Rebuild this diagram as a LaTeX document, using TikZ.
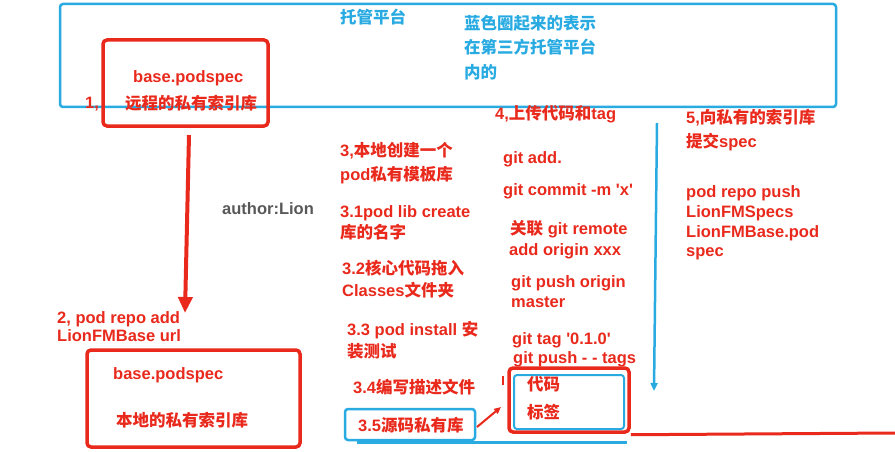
\documentclass[tikz,border=0pt]{standalone}
\usepackage{fontspec}
\setmainfont{Liberation Sans}[Ligatures=TeXOff]
\newfontfamily\cjk{Noto Sans CJK SC}
\usetikzlibrary{fit,arrows.meta}
\definecolor{myred}{RGB}{232,41,28}
\definecolor{myblue}{RGB}{41,171,226}
\definecolor{mygray}{RGB}{88,88,88}
\newcommand{\C}[1]{{\cjk #1}}
\tikzset{
  txt/.style={anchor=base west,inner sep=0pt,font=\fontsize{16.5}{20}\selectfont\bfseries},
  rt/.style={txt,text=myred},
  bt/.style={txt,text=myblue},
  gt/.style={txt,text=mygray},
  redbox/.style={draw=myred,line width=3.5pt,rounded corners=4pt,inner sep=0pt},
  bluebox/.style={draw=myblue,line width=2.5pt,rounded corners=3pt,inner sep=0pt},
}
\begin{document}
\begin{tikzpicture}[x=1pt,y=-1pt]
\useasboundingbox (0,0) rectangle (895,452);
% platform box
\node (plat) [bluebox,fit={(60,4) (836,107)}] {};
\node (platt) [bt] at (340,24) {\C{托管平台}};
\node (note1) [bt] at (464,30) {\C{蓝色圈起来的表示}};
\node (note2) [bt] at (464,54) {\C{在第三方托管平台}};
\node (note3) [bt] at (464,78) {\C{内的}};
% remote index
\node (r1) [redbox,fit={(103,40) (268,126)}] {};
\node (r1a) [rt] at (133,82) {base.podspec};
\node (s1) [rt] at (85,109) {1,};
\node (r1b) [rt] at (125,110) {\C{远程的私有索引库}};
\node (auth) [gt] at (222,214) {author:Lion};
% step 2
\node (s2a) [rt] at (57,323) {2, pod repo add};
\node (s2b) [rt] at (57,341) {LionFMBase url};
\coordinate (a1s) at (189,135);
\coordinate (a1e) at (185,313);
\draw[myred,line width=4pt,-{Triangle[length=16pt,width=14pt]}] (a1s) -- (a1e);
% local index
\node (r2) [redbox,fit={(87,350) (300,447)}] {};
\node (r2a) [rt] at (113,379) {base.podspec};
\node (r2b) [rt] at (116,426) {\C{本地的私有索引库}};
% step 3
\node (s3a) [rt] at (340,156) {3,\C{本地创建一个}};
\node (s3b) [rt] at (340,180) {pod\C{私有模板库}};
\node (s31a) [rt] at (340,217) {3.1pod lib create};
\node (s31b) [rt] at (340,238) {\C{库的名字}};
\node (s32a) [rt] at (342,274) {3.2\C{核心代码拖入}};
\node (s32b) [rt] at (342,296) {Classes\C{文件夹}};
\node (s33a) [rt] at (347,335) {3.3 pod install \C{安}};
\node (s33b) [rt] at (347,357) {\C{装测试}};
\node (s34) [rt] at (353,393) {3.4\C{编写描述文件}};
\node (b35) [bluebox,fit={(345,409) (475,440)}] {};
\node (s35) [rt] at (358,431) {3.5\C{源码私有库}};
\coordinate (ul1) at (357,442);
\coordinate (ul2) at (627,442);
\draw[myblue,line width=3pt] (ul1) -- (ul2);
% step 4
\node (s4) [rt] at (495,119) {4,\C{上传代码和}tag};
\node (g1) [rt] at (503,163) {git add.};
\node (g2) [rt] at (503,195) {git commit -m 'x'};
\node (g3a) [rt] at (510,234) {\C{关联} git remote};
\node (g3b) [rt] at (509,255) {add origin xxx};
\node (g4a) [rt] at (511,287) {git push origin};
\node (g4b) [rt] at (511,307) {master};
\node (g5a) [rt] at (512,344) {git tag '0.1.0'};
\node (g5b) [rt] at (513,363) {git push - - tags};
% code box
\node (r4) [redbox,fit={(509,368) (629,432)}] {};
\node (b4) [bluebox,line width=2pt,fit={(514,375) (624,429)}] {};
\node (c1) [rt] at (527,390) {\C{代码}};
\node (c2) [rt] at (527,418) {\C{标签}};
\coordinate (tk1) at (503,376);
\coordinate (tk2) at (503,385);
\draw[myred,line width=2pt] (tk1) -- (tk2);
\coordinate (sa1) at (477,427);
\coordinate (sa2) at (501,407);
\draw[myred,line width=2pt,-{Triangle[length=7pt,width=6pt]}] (sa1) -- (sa2);
\coordinate (rl) at (895,433);
\draw[myred,line width=3pt] (r4.south east) ++(0,1) -- (rl);
% blue arrow
\coordinate (ba1) at (657,123);
\coordinate (ba2) at (654,391);
\draw[myblue,line width=2.5pt,-{Triangle[length=8pt,width=7pt]}] (ba1) -- (ba2);
% step 5
\node (s5a) [rt] at (686,123) {5,\C{向私有的索引库}};
\node (s5b) [rt] at (686,147) {\C{提交}spec};
\node (p1) [rt] at (686,197) {pod repo push};
\node (p2) [rt] at (686,217) {LionFMSpecs};
\node (p3) [rt] at (686,237) {LionFMBase.pod};
\node (p4) [rt] at (686,256) {spec};
\end{tikzpicture}
\end{document}
